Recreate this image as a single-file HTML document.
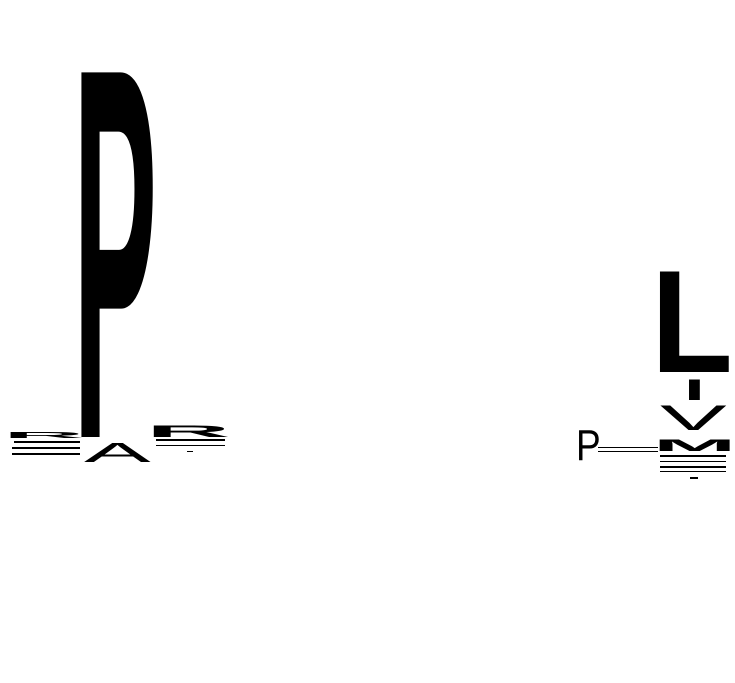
<!DOCTYPE html>
<html><head><meta charset="utf-8"><style>
html,body{margin:0;padding:0;background:#fff;width:735px;height:683px;overflow:hidden}
svg{display:block}
text{font-family:"Liberation Sans",sans-serif;fill:#000}
</style></head><body>
<svg width="735" height="683" viewBox="0 0 735 683">
<g>
<text font-size="100" font-weight="bold" transform="translate(73,437) scale(1.26,5.3)">P</text>
<text font-size="100" font-weight="bold" transform="translate(3,438) scale(1.13,0.08)">R</text>
<text font-size="100" transform="translate(84,462) scale(1,0.28)">A</text>
<text font-size="100" font-weight="bold" transform="translate(146,437) scale(1.17,0.17)">R</text>
<rect x="14" y="441" width="66" height="2" fill="#000"/>
<rect x="12" y="447" width="68" height="2" fill="#000"/>
<rect x="12" y="453" width="68" height="2" fill="#000"/>
<rect x="156" y="439" width="69" height="2" fill="#000"/>
<rect x="156" y="445" width="69" height="1" fill="#000"/>
<rect x="187" y="451" width="6" height="1" fill="#000"/>
</g>
<g>
<text font-size="100" font-weight="bold" transform="translate(651,372) scale(1.34,1.46)">L</text>
<text font-size="100" font-weight="bold" transform="translate(684,400) scale(0.75,0.3)">I</text>
<text font-size="100" transform="translate(660,430) scale(1,0.35)">V</text>
<text font-size="100" font-weight="bold" transform="translate(653,451) scale(1,0.17)">M</text>
<text font-size="100" transform="translate(576,460) scale(0.37,0.44)">P</text>
<rect x="598" y="447" width="60" height="1" fill="#000"/>
<rect x="598" y="451" width="60" height="1" fill="#000"/>
<rect x="660" y="455" width="66" height="2" fill="#000"/>
<rect x="660" y="461" width="66" height="1" fill="#000"/>
<rect x="660" y="466" width="66" height="2" fill="#000"/>
<rect x="660" y="471" width="66" height="1" fill="#000"/>
<rect x="690" y="477" width="8" height="2" fill="#000"/>
</g>
</svg>
</body></html>
